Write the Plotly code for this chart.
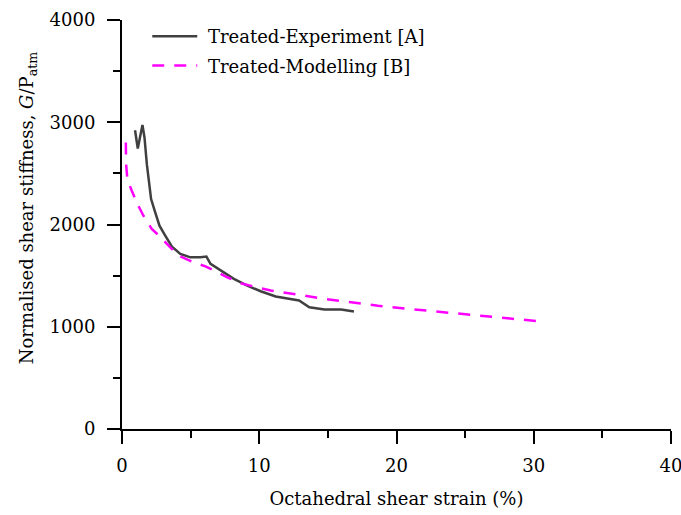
import plotly.graph_objects as go

exp_x = [0.95, 1.15, 1.49, 1.64, 1.81, 2.0, 2.12, 2.42, 2.73, 3.15, 3.64, 4.25, 4.98, 5.71, 6.15, 6.45, 7.18, 8.15, 9.13, 10.1, 11.2, 12.9, 13.65, 14.75, 15.97, 16.9]
exp_y = [2922, 2743, 2974, 2850, 2590, 2395, 2249, 2118, 1988, 1891, 1783, 1712, 1679, 1679, 1686, 1615, 1549, 1468, 1403, 1347, 1296, 1257, 1191, 1169, 1169, 1149]

mod_x = [0.28, 0.30, 0.39, 0.71, 1.19, 1.56, 2.17, 2.78, 3.52, 4.12, 5.22, 6.08, 7.67, 8.64, 9.62, 10.84, 12.8, 14.75, 16.7, 18.66, 20.86, 22.07, 24.27, 26.23, 28.18, 30.26]
mod_y = [2801, 2590, 2444, 2330, 2183, 2086, 1956, 1881, 1777, 1696, 1630, 1591, 1484, 1426, 1393, 1354, 1315, 1273, 1240, 1205, 1175, 1159, 1133, 1104, 1078, 1055]

FONT = "DejaVu Serif"
FS = 18

fig = go.Figure()
fig.add_trace(go.Scatter(x=exp_x, y=exp_y, mode="lines", name="&nbsp;Treated-Experiment [A]",
                         legendgroup="a", line=dict(color="#404040", width=2.5)))
fig.add_trace(go.Scatter(x=mod_x, y=mod_y, mode="lines", name="&nbsp;Treated-Modelling [B]",
                         legendgroup="b", line=dict(color="#FF00FF", width=2.5, dash="12px,10px")))

axis_common = dict(showline=True, linecolor="black", linewidth=2, ticks="outside",
                   ticklen=13, tickwidth=2, tickcolor="black", showgrid=False, zeroline=False,
                   automargin=False,
                   tickfont=dict(family=FONT, size=FS, color="black"),
                   minor=dict(ticks="outside", ticklen=7, tickwidth=2, tickcolor="black", showgrid=False))

fig.update_xaxes(range=[0, 40], dtick=10, tick0=0, minor_dtick=5, ticklabelstandoff=6,
                 ticklabeloverflow="allow",
                 title=dict(text="Octahedral shear strain (%)", font=dict(family=FONT, size=FS, color="black"), standoff=18),
                 **axis_common)
fig.update_yaxes(range=[0, 4000], dtick=1000, tick0=0, minor_dtick=500, ticklabelstandoff=8,
                 **axis_common)

fig.add_annotation(text="Normalised shear stiffness, <i>G</i>/P<sub>atm</sub>", textangle=-90,
                   xref="paper", yref="paper", x=-0.171, y=0.54, xanchor="center", yanchor="middle",
                   showarrow=False, font=dict(family=FONT, size=FS, color="black"))

fig.update_layout(
    width=681, height=515,
    margin=dict(l=122, r=10, t=20, b=86),
    plot_bgcolor="white", paper_bgcolor="white",
    showlegend=True,
    legend=dict(x=0.046, y=1.005, xanchor="left", yanchor="top", bgcolor="rgba(0,0,0,0)",
                font=dict(family=FONT, size=FS, color="black"), itemwidth=45,
                tracegroupgap=3),
)

fig.write_html("out.html")
